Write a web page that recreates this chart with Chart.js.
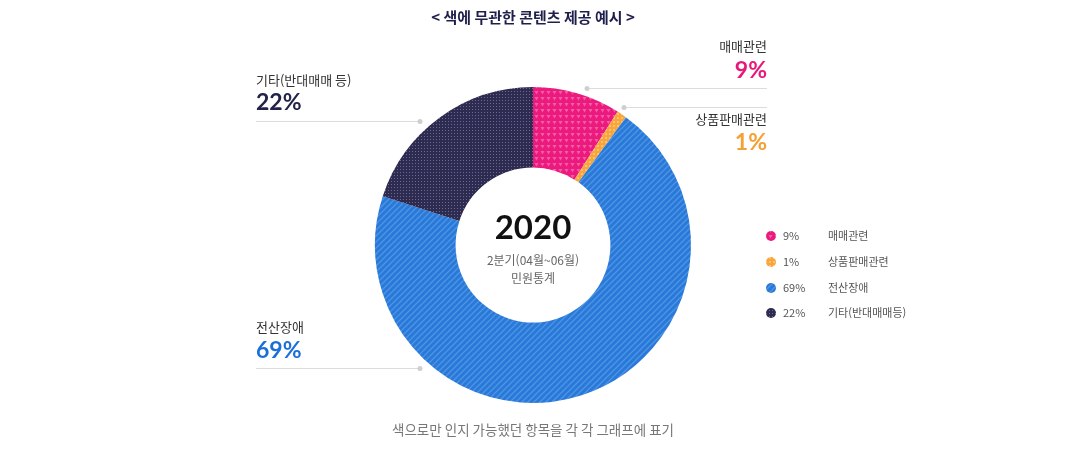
<!DOCTYPE html>
<html lang="ko">
<head>
<meta charset="utf-8">
<script src="https://cdn.jsdelivr.net/npm/chart.js@4.4.1/dist/chart.umd.min.js"></script>
<style>
    html, body { margin: 0; padding: 0; background: #fff; }
    #wrap { width: 1066px; height: 455px; position: relative; }
</style>
</head>
<body>
<div id="wrap"><canvas id="issueChart" width="1066" height="455"></canvas></div>
<script>
// Data
const categories = ['매매관련', '상품판매관련', '전산장애', '기타(반대매매등)'];
const calloutNames = ['매매관련', '상품판매관련', '전산장애', '기타(반대매매 등)'];
const percentLabels = ['9%', '1%', '69%', '22%'];
const sliceValues = [9, 1, 70, 20];   // slice sizes
const textColors = ['#e8177a', '#f5a034', '#1a6fd8', '#22224a'];

const KR = '"Noto Sans CJK KR", "Noto Sans", sans-serif';
const NUM = 'Lato, "Noto Sans", sans-serif';

// Pattern helpers
function makeTile(size, draw) {
    const c = document.createElement('canvas');
    c.width = size; c.height = size;
    draw(c.getContext('2d'), size);
    return document.createElement('canvas').getContext('2d').createPattern(c, 'repeat');
}

const patterns = [
    // pink with small triangles
    makeTile(6, function(g, s) {
        g.fillStyle = '#ec1a7f'; g.fillRect(0, 0, s, s);
        g.fillStyle = '#f25e9f';
        g.beginPath(); g.moveTo(0.5, 1); g.lineTo(4.5, 1); g.lineTo(2.5, 4.5); g.closePath(); g.fill();
    }),
    // orange with dots
    makeTile(4, function(g, s) {
        g.fillStyle = '#f9a53a'; g.fillRect(0, 0, s, s);
        g.fillStyle = '#fbc277'; g.fillRect(1, 1, 2, 2);
    }),
    // blue with diagonal stripes
    makeTile(6, function(g, s) {
        g.fillStyle = '#2a79d8'; g.fillRect(0, 0, s, s);
        g.strokeStyle = '#4d95e6'; g.lineWidth = 1.3;
        g.beginPath();
        g.moveTo(-1, s + 1); g.lineTo(s + 1, -1);
        g.moveTo(-1, 1); g.lineTo(1, -1);
        g.moveTo(s - 1, s + 1); g.lineTo(s + 1, s - 1);
        g.stroke();
    }),
    // navy with grid dots
    makeTile(3, function(g, s) {
        g.fillStyle = '#2d2c50'; g.fillRect(0, 0, s, s);
        g.fillStyle = '#6a6a92'; g.fillRect(1, 1, 1, 1);
    })
];

// Labels, leader lines, legend and texts drawn around the doughnut
const decorPlugin = {
    id: 'decor',
    afterDraw: function(chart) {
        const ctx = chart.ctx;
        const arc = chart.getDatasetMeta(0).data[0];
        const cx = arc.x, cy = arc.y;
        ctx.save();

        // title
        ctx.textAlign = 'center';
        ctx.textBaseline = 'middle';
        ctx.fillStyle = '#1e1f4b';
        ctx.font = 'bold 15px ' + KR;
        ctx.fillText('< 색에 무관한 콘텐츠 제공 예시 >', cx, 17);

        // centre text
        ctx.fillStyle = '#111';
        ctx.font = 'bold 33px ' + NUM;
        ctx.fillText('2020', cx, 228);
        ctx.fillStyle = '#666';
        ctx.font = '12px ' + KR;
        ctx.fillText('2분기(04월~06월)', cx, 260);
        ctx.fillText('민원통계', cx, 278);

        // caption
        ctx.fillStyle = '#777';
        ctx.font = '13.5px ' + KR;
        ctx.fillText('색으로만 인지 가능했던 항목을 각 각 그래프에 표기', cx, 430);

        // callouts
        const callouts = [
            { i: 0, align: 'right', x: 767, nameY: 46, pctY: 71, lineY: 88, x1: 587, x2: 767, dotX: 587 },
            { i: 1, align: 'right', x: 767, nameY: 119, pctY: 143, lineY: 107, x1: 624, x2: 767, dotX: 624 },
            { i: 2, align: 'left', x: 256, nameY: 327, pctY: 351, lineY: 368, x1: 256, x2: 420, dotX: 420 },
            { i: 3, align: 'left', x: 256, nameY: 80, pctY: 103, lineY: 121, x1: 256, x2: 420, dotX: 420 }
        ];
        callouts.forEach(function(c) {
            ctx.textAlign = c.align;
            ctx.fillStyle = '#333';
            ctx.font = '13px ' + KR;
            ctx.fillText(calloutNames[c.i], c.x, c.nameY);
            ctx.fillStyle = textColors[c.i];
            ctx.font = 'bold 23px ' + NUM;
            ctx.fillText(percentLabels[c.i], c.x, c.pctY);
            ctx.strokeStyle = '#dcdcdc';
            ctx.lineWidth = 1;
            ctx.beginPath();
            ctx.moveTo(c.x1, c.lineY + 0.5);
            ctx.lineTo(c.x2, c.lineY + 0.5);
            ctx.stroke();
            ctx.fillStyle = '#cfcfcf';
            ctx.beginPath();
            ctx.arc(c.dotX, c.lineY + 0.5, 2.5, 0, Math.PI * 2);
            ctx.fill();
        });

        // legend
        const rows = [236, 262, 288, 313];
        ctx.textAlign = 'left';
        ctx.font = '11px ' + KR;
        categories.forEach(function(name, i) {
            const y = rows[i];
            ctx.fillStyle = patterns[i];
            ctx.beginPath();
            ctx.arc(771, y, 5, 0, Math.PI * 2);
            ctx.fill();
            ctx.fillStyle = '#555';
            ctx.fillText(percentLabels[i], 783, y);
            ctx.fillText(name, 828, y);
        });

        ctx.restore();
    }
};

new Chart(document.getElementById('issueChart'), {
    type: 'doughnut',
    data: {
        labels: categories,
        datasets: [{
            data: sliceValues,
            backgroundColor: patterns,
            hoverBackgroundColor: patterns,
            borderWidth: 0
        }]
    },
    options: {
        responsive: false,
        animation: false,
        cutout: '49%',
        layout: {
            padding: { top: 87, bottom: 52, left: 375, right: 375 }
        },
        plugins: {
            legend: { display: false },
            tooltip: { enabled: false }
        }
    },
    plugins: [decorPlugin]
});
</script>
</body>
</html>
